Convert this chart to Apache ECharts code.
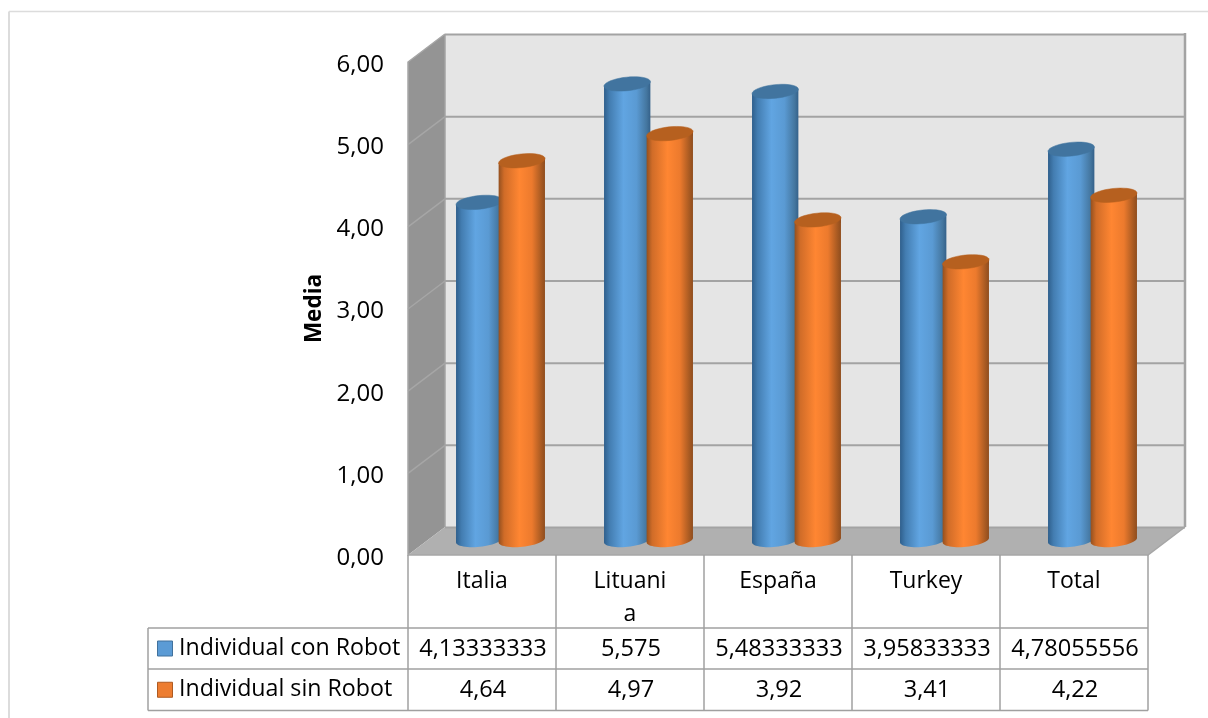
<!DOCTYPE html>
<html>
<head>
<meta charset="utf-8">
<style>html,body{margin:0;padding:0;background:#fff}#c{width:1208px;height:718px}</style>
<script src="https://cdn.jsdelivr.net/npm/echarts@6/dist/echarts.min.js"></script>
</head>
<body>
<div id="c"></div>
<script>
const categories = ['Italia', 'Lituania', 'España', 'Turkey', 'Total'];
const categoryLabels = ['Italia', 'Lituani\na', 'España', 'Turkey', 'Total'];
const conRobot = [4.13333333, 5.575, 5.48333333, 3.95833333, 4.78055556];
const sinRobot = [4.64, 4.97, 3.92, 3.41, 4.22];
const seriesNames = ['Individual con Robot', 'Individual sin Robot'];
const yTicks = [0, 1, 2, 3, 4, 5, 6];

const FONT = '"Open Sans", sans-serif';
const TEXT = '#000000';
const DEPTH = { x: 37, y: -28 };
const BAR = { dx: 21.3, rx: 23.3, ry: 6.8, tilt: -6 * Math.PI / 180, topLift: -13, baseLift: -15 };
const LINE = '#a3a3a3';

function fmt(v) { return String(v).replace('.', ','); }

function ellipsePt(cx, cy, t) {
  const ex = BAR.rx * Math.cos(t), ey = BAR.ry * Math.sin(t);
  const c = Math.cos(BAR.tilt), s = Math.sin(BAR.tilt);
  return [cx + ex * c - ey * s, cy + ex * s + ey * c];
}
function arc(cx, cy, from, to, n) {
  const pts = [];
  for (let i = 0; i <= n; i++) pts.push(ellipsePt(cx, cy, from + (to - from) * i / n));
  return pts;
}
function grad(stops) {
  return { type: 'linear', x: 0, y: 0, x2: 1, y2: 0,
    colorStops: stops.map(s => ({ offset: s[0], color: s[1] })) };
}
const blueGrad = grad([[0, '#2f5f8c'], [0.12, '#437db1'], [0.42, '#61a5e2'], [0.7, '#5a9ad3'], [0.92, '#44769f'], [1, '#34618a']]);
const orangeGrad = grad([[0, '#94501f'], [0.12, '#d06c28'], [0.45, '#ff8632'], [0.72, '#ec7a2d'], [0.92, '#a85a22'], [1, '#8f4d1e']]);

function barRenderer(side, bodyFill, topFill) {
  return function (params, api) {
    const i = api.value(0), v = api.value(1);
    const top = api.coord([i, v]);
    const base = api.coord([i, 0]);
    const cx = top[0] + DEPTH.x / 2 + side * BAR.dx;
    const topY = top[1] + BAR.topLift;
    const baseY = base[1] + BAR.baseLift;
    const body = [ellipsePt(cx, topY, Math.PI)]
      .concat(arc(cx, baseY, Math.PI, 0, 28))
      .concat([ellipsePt(cx, topY, 0)]);
    return {
      type: 'group',
      children: [
        { type: 'polygon', shape: { points: body }, style: { fill: bodyFill } },
        { type: 'polygon', shape: { points: arc(cx, topY, 0, Math.PI * 2, 40) },
          style: { fill: topFill, stroke: topFill, lineWidth: 0.5 } }
      ]
    };
  };
}

function renderWalls(params, api) {
  const cs = params.coordSys;
  const L = cs.x, R = cs.x + cs.width, T = cs.y, B = cs.y + cs.height;
  const dx = DEPTH.x, dy = DEPTH.y;
  const children = [
    { type: 'polygon', shape: { points: [[L + dx, T + dy], [R + dx, T + dy], [R + dx, B + dy], [L + dx, B + dy]] },
      style: { fill: '#e5e5e5' } },
    { type: 'polygon', shape: { points: [[L, T], [L + dx, T + dy], [L + dx, B + dy], [L, B]] },
      style: { fill: '#949494' } },
    { type: 'polygon', shape: { points: [[L, B], [L + dx, B + dy], [R + dx, B + dy], [R, B]] },
      style: { fill: '#b0b0b0' } }
  ];
  yTicks.forEach(function (tick) {
    const y = api.coord([0, tick])[1] + 0.5;
    if (tick > 0 && tick < 6) {
      children.push({ type: 'line', shape: { x1: L, y1: y, x2: L + dx, y2: y + dy },
        style: { stroke: '#a6a6a6', lineWidth: 1.5 } });
    }
    children.push({ type: 'line', shape: { x1: L + dx, y1: y + dy, x2: R + dx, y2: y + dy },
      style: { stroke: LINE, lineWidth: 2 } });
  });
  children.push({ type: 'line', shape: { x1: R + dx, y1: T + dy - 1, x2: R + dx, y2: B + dy },
    style: { stroke: LINE, lineWidth: 2.5 } });
  children.push({ type: 'line', shape: { x1: L + dx, y1: T + dy, x2: L + dx, y2: B + dy },
    style: { stroke: LINE, lineWidth: 1.5 } });
  children.push({ type: 'polyline', shape: { points: [[L + dx, T + dy], [L, T], [L, B], [R, B], [R + dx, B + dy]] },
    style: { stroke: '#a6a6a6', lineWidth: 1.5, fill: null } });
  return { type: 'group', children: children };
}

function renderTable(params, api) {
  const cs = params.coordSys;
  const L = cs.x, R = cs.x + cs.width, B = cs.y + cs.height;
  const legendL = 148, rowTop = 628, rowMid = 669, rowBot = 710.5, textX = 179;
  const band = cs.width / categories.length;
  const line = (x1, y1, x2, y2) => ({ type: 'line', shape: { x1, y1, x2, y2 }, style: { stroke: '#a0a0a0', lineWidth: 1.5 } });
  const children = [
    { type: 'line', shape: { x1: 9, y1: 11.5, x2: 1208, y2: 11.5 }, style: { stroke: '#dcdcdc', lineWidth: 1.5 } },
    { type: 'line', shape: { x1: 9, y1: 11.5, x2: 9, y2: 718 }, style: { stroke: '#dcdcdc', lineWidth: 2 } },
    line(legendL, rowTop, R, rowTop), line(legendL, rowMid, R, rowMid), line(legendL, rowBot, R, rowBot),
    line(legendL, rowTop, legendL, rowBot)
  ];
  for (let i = 0; i <= categories.length; i++) {
    children.push(line(L + band * i, B, L + band * i, rowBot));
  }
  const rows = [[conRobot, rowTop, rowMid, '#5b9bd5', '#41719c'], [sinRobot, rowMid, rowBot, '#ed7d31', '#ae5a21']];
  rows.forEach(function (r, ri) {
    const cy = (r[1] + r[2]) / 2;
    children.push({ type: 'rect', shape: { x: 157.5, y: cy - 7.5, width: 15, height: 15 },
      style: { fill: r[3], stroke: r[4], lineWidth: 1 } });
    children.push({ type: 'text', style: { text: seriesNames[ri], x: textX, y: cy, fill: TEXT,
      font: '23.2px ' + FONT, align: 'left', verticalAlign: 'middle' } });
    r[0].forEach(function (v, i) {
      children.push({ type: 'text', style: { text: fmt(v), x: L + band * (i + 0.5) + 1, y: cy + 1, fill: TEXT,
        font: '23.6px ' + FONT, align: 'center', verticalAlign: 'middle' } });
    });
  });
  return { type: 'group', children: children };
}

const chart = echarts.init(document.getElementById('c'), null, { renderer: 'canvas' });
chart.setOption({
  animation: false,
  backgroundColor: '#ffffff',
  grid: { left: 408, top: 62, width: 740, height: 493, containLabel: false },
  xAxis: {
    type: 'category',
    data: categoryLabels,
    axisLine: { show: false },
    axisTick: { show: false },
    axisLabel: { color: TEXT, fontFamily: FONT, fontSize: 23, margin: 10, lineHeight: 33, interval: 0, verticalAlign: 'top' }
  },
  yAxis: {
    type: 'value',
    min: 0, max: 6, interval: 1,
    name: 'Media',
    nameLocation: 'middle',
    nameGap: 82,
    nameRotate: 90,
    nameTextStyle: { color: TEXT, fontFamily: FONT, fontSize: 22.5, fontWeight: 'bold' },
    axisLine: { show: false },
    axisTick: { show: false },
    splitLine: { show: false },
    axisLabel: { color: TEXT, fontFamily: FONT, fontSize: 24, margin: 24, verticalAlign: 'top', lineHeight: 6,
      formatter: v => v.toFixed(2).replace('.', ',') }
  },
  series: [
    { type: 'custom', name: 'walls', silent: true, z: 1, renderItem: renderWalls, data: [[0, 0]] },
    { type: 'custom', name: 'table', silent: true, z: 1, renderItem: renderTable, data: [[0, 0]] },
    { type: 'custom', name: seriesNames[0], silent: true, z: 2,
      renderItem: barRenderer(-1, blueGrad, '#41749f'),
      encode: { x: 0, y: 1 }, data: conRobot.map((v, i) => [i, v]) },
    { type: 'custom', name: seriesNames[1], silent: true, z: 3,
      renderItem: barRenderer(1, orangeGrad, '#b6601f'),
      encode: { x: 0, y: 1 }, data: sinRobot.map((v, i) => [i, v]) }
  ]
});
</script>
</body>
</html>
